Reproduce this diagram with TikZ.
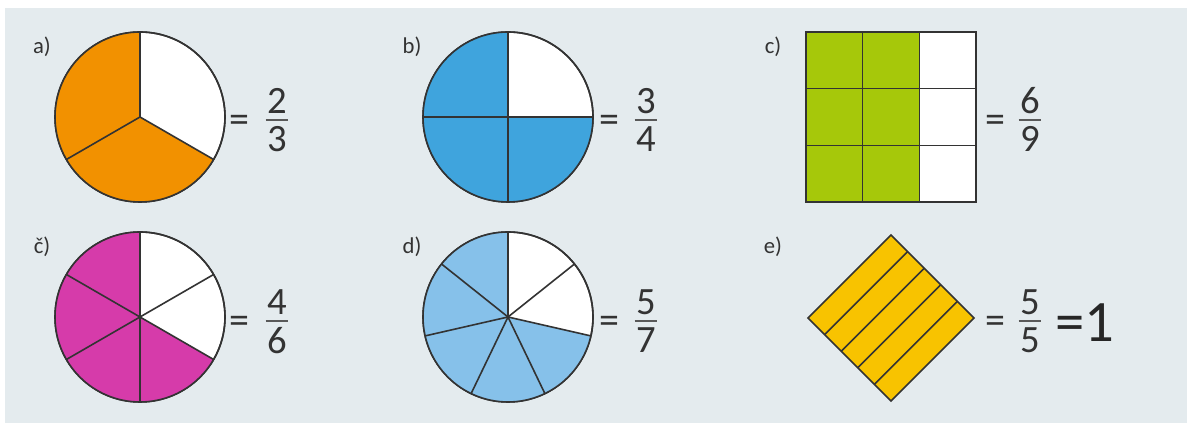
\documentclass[tikz,border=0pt]{standalone}
\usepackage{fontspec}
\setmainfont{Carlito}
\usetikzlibrary{shapes.geometric, positioning, calc}

\definecolor{panelbg}{HTML}{E4EBEE}
\definecolor{pieorange}{HTML}{F29100}
\definecolor{pieblue}{HTML}{3FA4DD}
\definecolor{gridgreen}{HTML}{A6C80A}
\definecolor{piemagenta}{HTML}{D63BAA}
\definecolor{pielight}{HTML}{86C1EA}
\definecolor{diayellow}{HTML}{F8C300}
\definecolor{inkgrey}{HTML}{333333}

\begin{document}
\begin{tikzpicture}[
    x=0.75pt, y=0.75pt,
    outline/.style={draw=inkgrey, line width=1.2pt},
    pie/.style={circle, outline, fill=white, minimum size=127.5pt, inner sep=0pt, outer sep=0pt},
    box/.style={rectangle, outline, fill=white, minimum size=127.5pt, inner sep=0pt, outer sep=0pt},
    tag/.style={font=\fontsize{17}{17}\selectfont, text=inkgrey},
    eqsign/.style={inner sep=0pt, font=\fontsize{30}{30}\selectfont, text=inkgrey},
    digit/.style={inner sep=0pt, font=\fontsize{29}{29}\selectfont, text=inkgrey},
    fracbar/.style={draw=black!65, line width=1.3pt}
]
    \useasboundingbox (0,0) rectangle (1187,423);
    \fill[panelbg] (5,0) rectangle (1187,415);

    % Labels
    \node[tag] (tagA) at (42,376) {a)};
    \node[tag] (tagB) at (412,376) {b)};
    \node[tag] (tagC) at (773,376) {c)};
    \node[tag] (tagCh) at (42,176) {č)};
    \node[tag] (tagD) at (412,176) {d)};
    \node[tag] (tagE) at (773,176) {e)};

    % a) thirds
    \node[pie] (pieA) at (140,306) {};
    \fill[pieorange] (pieA.center) -- (pieA.90) arc[start angle=90, end angle=330, radius=63.75pt] -- cycle;
    \foreach \a in {90,210,330}
        \draw[outline] (pieA.center) -- ++(\a:63.75pt);
    \draw[outline] (pieA.center) circle[radius=63.75pt];

    % b) quarters
    \node[pie] (pieB) at (508,306) {};
    \fill[pieblue] (pieB.center) -- (pieB.90) arc[start angle=90, end angle=360, radius=63.75pt] -- cycle;
    \foreach \a in {0,90,180,270}
        \draw[outline] (pieB.center) -- ++(\a:63.75pt);
    \draw[outline] (pieB.center) circle[radius=63.75pt];

    % c) grid
    \node[box] (gridC) at (891,306) {};
    \fill[gridgreen] (gridC.south west) rectangle ($(gridC.north west)!2/3!(gridC.north east)$);
    \foreach \t in {1,2} {
        \draw[outline] ($(gridC.south west)!\t/3!(gridC.south east)$) -- ($(gridC.north west)!\t/3!(gridC.north east)$);
        \draw[outline] ($(gridC.south west)!\t/3!(gridC.north west)$) -- ($(gridC.south east)!\t/3!(gridC.north east)$);
    }
    \draw[outline] (gridC.south west) rectangle (gridC.north east);

    % c-caron) sixths
    \node[pie] (pieCh) at (140,106) {};
    \fill[piemagenta] (pieCh.center) -- (pieCh.90) arc[start angle=90, end angle=330, radius=63.75pt] -- cycle;
    \foreach \k [evaluate=\k as \a using 90+\k*60] in {0,...,5}
        \draw[outline] (pieCh.center) -- ++(\a:63.75pt);
    \draw[outline] (pieCh.center) circle[radius=63.75pt];

    % d) sevenths
    \node[pie] (pieD) at (508,106) {};
    \fill[pielight] (pieD.center) -- (pieD.90) arc[start angle=90, end angle=90+5*360/7, radius=63.75pt] -- cycle;
    \foreach \k [evaluate=\k as \a using 90+\k*360/7] in {0,...,6}
        \draw[outline] (pieD.center) -- ++(\a:63.75pt);
    \draw[outline] (pieD.center) circle[radius=63.75pt];

    % e) diamond in strips
    \node[diamond, aspect=1, outline, fill=diayellow, minimum width=124.5pt, minimum height=124.5pt, inner sep=0pt, outer sep=0pt] (diaE) at (891,105) {};
    \foreach \t in {1,...,4}
        \draw[outline] ($(diaE.west)!\t/5!(diaE.south)$) -- ($(diaE.north)!\t/5!(diaE.east)$);

    % Fractions
    \node[eqsign] (eqA) at (239,299) {=};
    \node[digit, anchor=south] (numA) at (277,309) {2};
    \node[digit, anchor=north] (denA) at (277,297) {3};
    \draw[fracbar] ([xshift=-1pt]$(numA.south west)!0.5!(denA.north west)$) -- ([xshift=1pt]$(numA.south east)!0.5!(denA.north east)$);

    \node[eqsign] (eqB) at (609,299) {=};
    \node[digit, anchor=south] (numB) at (646,309) {3};
    \node[digit, anchor=north] (denB) at (646,297) {4};
    \draw[fracbar] ([xshift=-1pt]$(numB.south west)!0.5!(denB.north west)$) -- ([xshift=1pt]$(numB.south east)!0.5!(denB.north east)$);

    \node[eqsign] (eqC) at (995,299) {=};
    \node[digit, anchor=south] (numC) at (1030,309) {6};
    \node[digit, anchor=north] (denC) at (1030,297) {9};
    \draw[fracbar] ([xshift=-1pt]$(numC.south west)!0.5!(denC.north west)$) -- ([xshift=1pt]$(numC.south east)!0.5!(denC.north east)$);

    \node[eqsign] (eqCh) at (239,98) {=};
    \node[digit, anchor=south] (numCh) at (277,108) {4};
    \node[digit, anchor=north] (denCh) at (277,96) {6};
    \draw[fracbar] ([xshift=-1pt]$(numCh.south west)!0.5!(denCh.north west)$) -- ([xshift=1pt]$(numCh.south east)!0.5!(denCh.north east)$);

    \node[eqsign] (eqD) at (609,98) {=};
    \node[digit, anchor=south] (numD) at (646,108) {5};
    \node[digit, anchor=north] (denD) at (646,96) {7};
    \draw[fracbar] ([xshift=-1pt]$(numD.south west)!0.5!(denD.north west)$) -- ([xshift=1pt]$(numD.south east)!0.5!(denD.north east)$);

    \node[eqsign] (eqE) at (995,98) {=};
    \node[digit, anchor=south] (numE) at (1030,108) {5};
    \node[digit, anchor=north] (denE) at (1030,96) {5};
    \draw[fracbar] ([xshift=-1pt]$(numE.south west)!0.5!(denE.north west)$) -- ([xshift=1pt]$(numE.south east)!0.5!(denE.north east)$);
    \node[inner sep=0pt, anchor=base west, font=\fontsize{44}{44}\selectfont, text=black!85] (oneE) at (1055,81) {=1};
\end{tikzpicture}
\end{document}
